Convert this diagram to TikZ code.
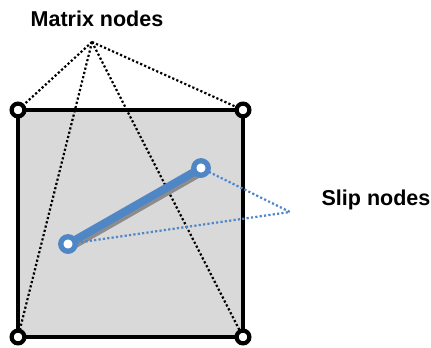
\documentclass[tikz,border=0pt]{standalone}
\usepackage{fontspec}
\setmainfont{Liberation Sans}
\definecolor{fillgray}{HTML}{D9D9D9}
\definecolor{slipblue}{HTML}{4F86C6}
\definecolor{shadowgray}{HTML}{8C8C8C}
\begin{document}
\begin{tikzpicture}[x=1pt,y=-1pt,
  matnode/.style={circle,draw=black,line width=4.2pt,fill=white,minimum size=12.8pt,inner sep=0pt},
  slipnode/.style={circle,draw=slipblue,line width=5.3pt,fill=white,minimum size=14.5pt,inner sep=0pt},
  lbl/.style={font=\bfseries\fontsize{21.5}{25}\selectfont,inner sep=0pt},
  blackdot/.style={dash pattern=on 2.2pt off 2.2pt,line width=2.2pt,black},
  bluedot/.style={dash pattern=on 2.2pt off 2.2pt,line width=2.2pt,slipblue}]
\useasboundingbox (0,0) rectangle (431,348);
\coordinate (tl) at (18,110);
\coordinate (tr) at (243,110);
\coordinate (bl) at (18,337);
\coordinate (br) at (243,337);
\fill[fillgray] (tl) rectangle (br);
\coordinate (mapex) at (92,42);
\coordinate (sapex) at (290,212);
\draw[blackdot] (mapex) -- (tl);
\draw[blackdot] (mapex) -- (tr);
\draw[blackdot] (mapex) -- (bl);
\draw[blackdot] (mapex) -- (br);
\draw[line width=4.6pt,line join=miter] (tl) -- (tr) -- (br) -- (bl) -- cycle;
\coordinate (s1) at (68,244);
\coordinate (s2) at (201,168);
\draw[shadowgray,line width=8pt] ([shift={(2,3)}]s1) -- ([shift={(2,3)}]s2);
\draw[slipblue,line width=8pt] (s1) -- (s2);
\draw[bluedot] (s1) -- (sapex);
\draw[bluedot] (s2) -- (sapex);
\node[matnode] (n1) at (tl) {};
\node[matnode] (n2) at (tr) {};
\node[matnode] (n3) at (bl) {};
\node[matnode] (n4) at (br) {};
\node[slipnode] (m1) at (s1) {};
\node[slipnode] (m2) at (s2) {};
\node[lbl] (t1) at (97,19) {Matrix nodes};
\node[lbl] (t2) at (376,200) {Slip nodes};
\end{tikzpicture}
\end{document}
